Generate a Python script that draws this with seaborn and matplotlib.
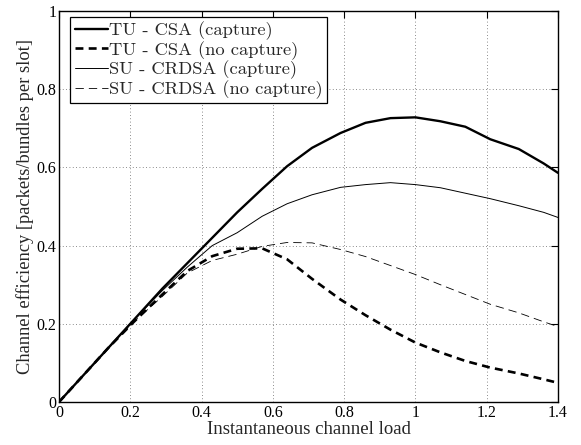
import matplotlib
matplotlib.use("Agg")
import matplotlib.pyplot as plt
import seaborn as sns
import pandas as pd

# Instantaneous channel load (x) and efficiency curves
load = [0, 0.07, 0.14, 0.21, 0.29, 0.36, 0.43, 0.5, 0.57, 0.64, 0.71,
        0.79, 0.86, 0.93, 1.0, 1.07, 1.14, 1.21, 1.29, 1.36, 1.4]
tu_csa_cap = [0, 0.07, 0.14, 0.21, 0.29, 0.355, 0.42, 0.485, 0.545, 0.603, 0.65,
              0.688, 0.714, 0.726, 0.728, 0.718, 0.704, 0.672, 0.647, 0.61, 0.586]
tu_csa_nocap = [0, 0.07, 0.14, 0.205, 0.275, 0.335, 0.373, 0.392, 0.393, 0.365, 0.315,
                0.262, 0.222, 0.185, 0.152, 0.127, 0.105, 0.088, 0.073, 0.058, 0.049]
su_crdsa_cap = [0, 0.07, 0.14, 0.21, 0.285, 0.345, 0.40, 0.433, 0.475, 0.507, 0.53,
                0.549, 0.556, 0.561, 0.556, 0.548, 0.534, 0.52, 0.502, 0.485, 0.472]
su_crdsa_nocap = [0, 0.07, 0.14, 0.205, 0.27, 0.33, 0.362, 0.378, 0.398, 0.408, 0.407,
                  0.39, 0.372, 0.349, 0.326, 0.3, 0.275, 0.25, 0.228, 0.205, 0.193]

labels = ["TU - CSA (capture)", "TU - CSA (no capture)",
          "SU - CRDSA (capture)", "SU - CRDSA (no capture)"]
series = [tu_csa_cap, tu_csa_nocap, su_crdsa_cap, su_crdsa_nocap]

x_ticks = [0, 0.2, 0.4, 0.6, 0.8, 1, 1.2, 1.4]
x_ticklabels = ["0", "0.2", "0.4", "0.6", "0.8", "1", "1.2", "1.4"]
y_ticks = [0, 0.2, 0.4, 0.6, 0.8, 1]
y_ticklabels = ["0", "0.2", "0.4", "0.6", "0.8", "1"]

sns.set_style("white")
plt.rcParams["font.family"] = ["Liberation Serif", "DejaVu Serif"]

fig = plt.figure(figsize=(5.81, 4.45), dpi=100)
ax = fig.add_axes([0.1015, 0.0966, 0.8589, 0.8787])

# estilos: grosso/fino, continuo/tracejado
widths = [1.7, 1.9, 0.7, 0.6]
dashes = [None, (3.0, 2.0), None, (10.0, 6.0)]

for vals, lab, lw, ds in zip(series, labels, widths, dashes):
    df = pd.DataFrame({"load": load, "eff": vals})
    sns.lineplot(data=df, x="load", y="eff", ax=ax, color="black",
                 linewidth=lw, label=lab)
    ln = ax.get_lines()[-1]
    if ds is not None:
        ln.set_dashes(ds)

ax.set_xlim(0, 1.4)
ax.set_ylim(0, 1)
ax.set_xticks(x_ticks)
ax.set_xticklabels(x_ticklabels)
ax.set_yticks(y_ticks)
ax.set_yticklabels(y_ticklabels)
ax.tick_params(direction="in", length=5, width=0.8, top=True, right=True,
               labelsize=11.5, pad=2, colors="black")
ax.grid(True, linestyle=(0, (1, 3)), color="#666666", linewidth=0.6)

for sp in ax.spines.values():
    sp.set_visible(True)
    sp.set_color("black")
    sp.set_linewidth(1.0)

ax.set_xlabel("Instantaneous channel load", fontsize=13.5, labelpad=0)
ax.set_ylabel("Channel efficiency [packets/bundles per slot]", fontsize=13.3, labelpad=2)

leg = ax.legend(loc="upper left", bbox_to_anchor=(0.022, 0.985), frameon=True,
                fancybox=False, edgecolor="black", framealpha=1,
                prop={"family": "cmr10", "size": 13.3}, handlelength=1.8,
                handletextpad=0.05, borderpad=0.25, labelspacing=0.05, borderaxespad=0)
leg.get_frame().set_linewidth(0.9)

fig.savefig("out.png", dpi=100)
